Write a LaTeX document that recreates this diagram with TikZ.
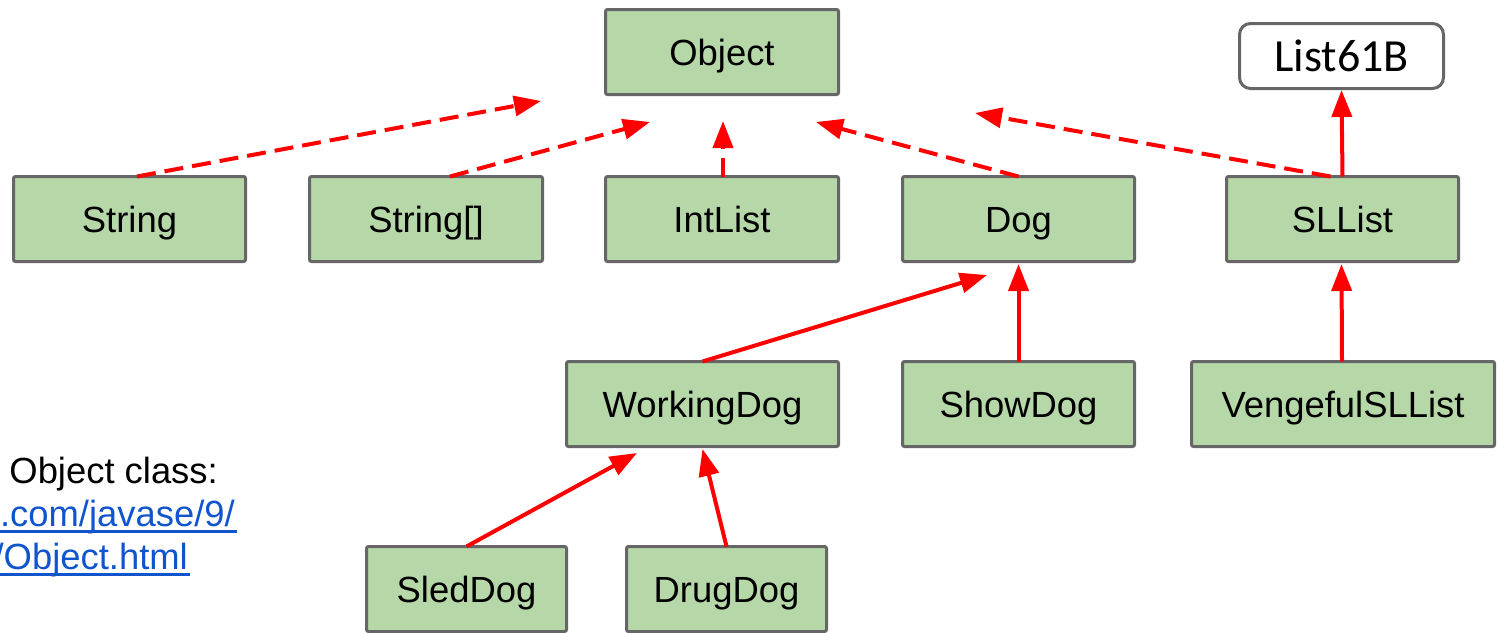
\documentclass[tikz,border=0pt]{standalone}
\usepackage{fontspec}
\setmainfont{Liberation Sans}
\newfontfamily\carlito{Carlito}
\usetikzlibrary{arrows.meta}
\definecolor{boxgreen}{HTML}{B6D7A8}
\definecolor{boxgray}{HTML}{666666}
\definecolor{linkblue}{HTML}{1155CC}
\definecolor{arrred}{HTML}{FF0000}
\tikzset{
  cls/.style={draw=boxgray, fill=boxgreen, line width=3pt, rounded corners=2pt,
    minimum height=85pt, inner sep=0pt, text height=26pt, text depth=0pt,
    font=\fontsize{36.4}{43}\selectfont},
  ifc/.style={draw=boxgray, fill=white, line width=3pt, rounded corners=11pt,
    minimum width=204pt, minimum height=65pt, inner sep=0pt, text height=31pt, text depth=0pt,
    font=\carlito\fontsize{46}{50}\selectfont},
  ext/.style={draw=arrred, line width=4pt, -{Triangle[length=27pt,width=20pt]}},
  impl/.style={ext, dash pattern=on 19pt off 9pt},
  txt/.style={inner sep=0pt, anchor=base east, font=\fontsize{36.4}{43}\selectfont},
}
\begin{document}
\begin{tikzpicture}[x=1pt,y=-1pt]
\useasboundingbox (0,0) rectangle (1499,632);
% boxes
\node[cls, minimum width=233pt] (Object) at (722,52) {Object};
\node[ifc] (List) at (1341.5,56) {List61B};
\node[cls, minimum width=232pt] (String) at (129.5,219) {String};
\node[cls, minimum width=233pt] (StringArr) at (426,219) {String[]};
\node[cls, minimum width=233pt] (IntList) at (722,219) {IntList};
\node[cls, minimum width=232pt] (Dog) at (1018.5,219) {Dog};
\node[cls, minimum width=232pt] (SLList) at (1342.5,219) {SLList};
\node[cls, minimum width=272pt] (Working) at (702.5,404) {WorkingDog};
\node[cls, minimum width=232pt] (Show) at (1018.5,404) {ShowDog};
\node[cls, minimum width=303pt] (Vengeful) at (1343,404) {VengefulSLList};
\node[cls, minimum width=200pt] (Sled) at (466.5,589) {SledDog};
\node[cls, minimum width=200pt] (Drug) at (726.5,589) {DrugDog};
% free arrow tips
\coordinate (t1) at (541,101);
\coordinate (t2) at (650,122);
\coordinate (t3) at (723,121);
\coordinate (t4) at (816,122);
\coordinate (t5) at (975,113);
\coordinate (t6) at (987,275);
\coordinate (t7) at (637,453);
% dashed arrows
\draw[impl] ([xshift=7.5pt,yshift=-1.5pt]String.north) -- (t1);
\draw[impl] ([xshift=24pt,yshift=-1.5pt]StringArr.north) -- (t2);
\draw[impl] ([xshift=1pt,yshift=-1.5pt]IntList.north) -- (t3);
\draw[impl] ([yshift=-1.5pt]Dog.north) -- (t4);
\draw[impl] ([xshift=-12pt,yshift=-1.5pt]SLList.north) -- (t5);
% solid arrows
\draw[ext] ([yshift=-1.5pt]SLList.north) -- (List.south);
\draw[ext] ([yshift=-1.5pt]Working.north) -- (t6);
\draw[ext] ([yshift=-1.5pt]Show.north) -- ([yshift=-1pt]Dog.south);
\draw[ext] ([xshift=-1pt,yshift=-1.5pt]Vengeful.north) -- ([xshift=-1pt,yshift=-1pt]SLList.south);
\draw[ext] ([yshift=-1.5pt]Sled.north) -- (t7);
\draw[ext] ([yshift=-1.5pt]Drug.north) -- ([yshift=-1pt]Working.south);
% text
\node[txt] (l1) at (218,483) {Object class:};
\node[txt, text=linkblue] (l2) at (235,526) {.com/javase/9/};
\node[txt, text=linkblue] (l3) at (188,569) {/Object.html};
\draw[linkblue, line width=3pt] ([yshift=-5pt]l2.base west) -- ([yshift=-5pt,xshift=2pt]l2.base east);
\draw[linkblue, line width=3pt] ([yshift=-5pt]l3.base west) -- ([yshift=-5pt,xshift=2pt]l3.base east);
\end{tikzpicture}
\end{document}
